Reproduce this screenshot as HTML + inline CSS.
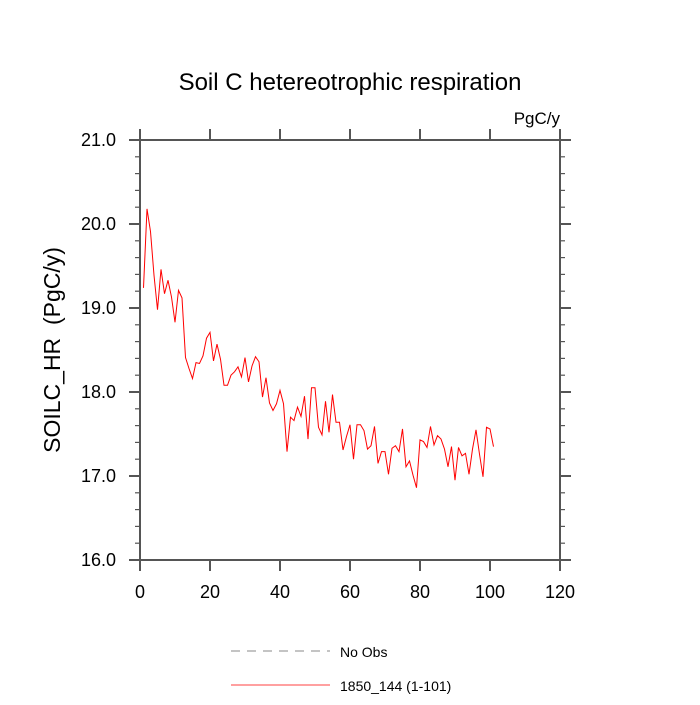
<!DOCTYPE html>
<html><head><meta charset="utf-8"><style>
html,body{margin:0;padding:0;background:#fff}
svg text{font-family:"Liberation Sans",sans-serif;fill:#000}
</style></head><body>
<svg id="chart" width="700" height="700">
<text x="350" y="90" font-size="24" text-anchor="middle">Soil C hetereotrophic respiration</text>
<text x="560" y="124" font-size="17" text-anchor="end">PgC/y</text>
<text transform="translate(60,350) rotate(-90)" font-size="23" text-anchor="middle">SOILC_HR&#160;&#160;(PgC/y)</text>
<g id="axes"></g>
<g id="series"></g>
<g>
<line x1="231" y1="651" x2="330" y2="651" stroke="#888" stroke-width="1" stroke-dasharray="9,7"/>
<text x="340" y="657" font-size="14">No Obs</text>
<line x1="231" y1="685" x2="330" y2="685" stroke="#f00" stroke-width="0.8"/>
<text x="340" y="691" font-size="14">1850_144 (1-101)</text>
</g>
</svg>
<script>
const years = Array.from({length:101},(_,i)=>i+1);
const values = [19.24,20.18,19.91,19.39,18.98,19.46,19.17,19.33,19.13,18.83,
19.21,19.12,18.41,18.28,18.16,18.35,18.34,18.43,18.64,18.71,
18.37,18.57,18.39,18.08,18.08,18.20,18.24,18.30,18.18,18.41,
18.12,18.31,18.42,18.36,17.94,18.17,17.87,17.78,17.86,18.02,
17.86,17.29,17.70,17.66,17.82,17.71,17.95,17.44,18.05,18.05,
17.58,17.49,17.89,17.52,17.97,17.64,17.64,17.31,17.47,17.61,
17.20,17.61,17.61,17.54,17.32,17.36,17.59,17.15,17.29,17.29,
17.02,17.33,17.36,17.29,17.56,17.11,17.18,17.01,16.86,17.43,
17.41,17.34,17.59,17.37,17.48,17.44,17.32,17.11,17.35,16.95,
17.34,17.24,17.27,17.02,17.32,17.55,17.26,16.99,17.58,17.56,17.35];
const xTicks = [0,20,40,60,80,100,120];
const yTicks = [16.0,17.0,18.0,19.0,20.0,21.0];
const X0=140,X1=560,Y0=560,Y1=140;
const xs=v=>X0+(v-0)/(120-0)*(X1-X0);
const ys=v=>Y0-(v-16)/(21-16)*(Y0-Y1);
const NS="http://www.w3.org/2000/svg";
const axes=document.getElementById('axes');
function mk(tag,attrs,parent){const e=document.createElementNS(NS,tag);for(const k in attrs)e.setAttribute(k,attrs[k]);parent.appendChild(e);return e;}
const box=mk('rect',{x:X0,y:Y1,width:X1-X0,height:Y0-Y1,fill:'none',stroke:'#555','stroke-width':2},axes);


xTicks.forEach(t=>{
  const x=xs(t);
  const l=mk('line',{x1:x,x2:x,y1:Y0,y2:Y0+11,stroke:'#555','stroke-width':2},axes);
  
  
  const l2=mk('line',{x1:x,x2:x,y1:Y1,y2:Y1-11,stroke:'#555','stroke-width':2},axes);
  
  
  const tx=mk('text',{x:x,y:598,'font-size':18,'text-anchor':'middle'},axes);
  tx.textContent=t;
  
  
});
for(let v=16;v<=21.001;v+=0.2){
  const y=ys(v);const major=Math.abs(v-Math.round(v))<1e-6;const len=major?11:5;
  const l=mk('line',{x1:X0-len,x2:X0,y1:y,y2:y,stroke:'#555','stroke-width':major?2:1.2},axes);
  
  
  const r=mk('line',{x1:X1,x2:X1+len,y1:y,y2:y,stroke:'#555','stroke-width':major?2:1.2},axes);
  
  
}
yTicks.forEach(t=>{
  const tx=mk('text',{x:116,y:ys(t)+6,'font-size':18,'text-anchor':'end'},axes);
  tx.textContent=t.toFixed(1);
  
  
});
const pts=years.map((y,i)=>xs(y).toFixed(2)+','+ys(values[i]).toFixed(2)).join(' ');
const pl=mk('polyline',{points:pts,fill:'none',stroke:'#f00','stroke-width':1},document.getElementById('series'));


</script>
</body></html>
